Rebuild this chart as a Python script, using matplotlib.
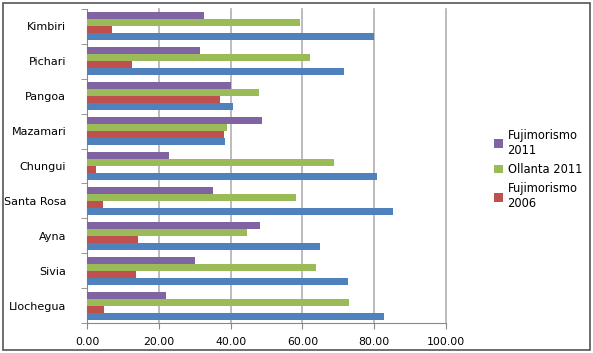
import numpy as np
import matplotlib
matplotlib.use("Agg")
import matplotlib.pyplot as plt
from matplotlib.patches import Rectangle

# data, bottom to top
districts = ["Llochegua", "Sivia", "Ayna", "Santa Rosa", "Chungui",
             "Mazamari", "Pangoa", "Pichari", "Kimbiri"]
ollanta_2006 = [82.6, 72.8, 64.8, 85.1, 80.7, 38.5, 40.7, 71.5, 80.0]
fujimorismo_2006 = [4.8, 13.7, 14.2, 4.5, 2.5, 38.2, 37.0, 12.5, 7.0]
ollanta_2011 = [73.1, 63.9, 44.6, 58.1, 68.8, 39.0, 48.0, 62.0, 59.3]
fujimorismo_2011 = [22.0, 30.1, 48.2, 35.1, 22.8, 48.8, 40.0, 31.5, 32.6]

series = [
    ("Ollanta 2006", ollanta_2006, "#4F81BD"),
    ("Fujimorismo\n2006", fujimorismo_2006, "#C0504D"),
    ("Ollanta 2011", ollanta_2011, "#9BBB59"),
    ("Fujimorismo\n2011", fujimorismo_2011, "#8064A2"),
]

plt.rcParams['font.family'] = ['DejaVu Sans']

fig = plt.figure(figsize=(5.93, 3.53), dpi=100)
ax = fig.add_axes([0.1467, 0.085, 0.6054, 0.8895])

y = np.arange(len(districts))
h = 0.2
bars = []
for i, (name, vals, col) in enumerate(series):
    b = ax.barh(y - 0.3 + i * h, vals, height=h, color=col, label=name, zorder=3)
    bars.append(b)

ax.set_xlim(0, 100)
ax.set_ylim(-0.5, len(districts) - 0.5)
ticks = np.arange(0, 101, 20)
ax.set_xticks(ticks)
ax.set_xticklabels(["%.2f" % v for v in ticks], fontsize=7.8)
ax.set_yticks(y)
ax.set_yticklabels(districts, fontsize=8.0)
ax.tick_params(axis='y', length=0, pad=15)
ax.set_yticks(np.arange(-0.5, len(districts)), minor=True)
ax.tick_params(axis='y', which='minor', length=4, color='#888888')
ax.tick_params(axis='x', length=4, color='#888888', pad=6)
for t in ticks[1:]:
    ax.axvline(t, color='#b0b0b0', linewidth=1.2, zorder=0, clip_on=False)
for s in ['top', 'right']:
    ax.spines[s].set_visible(False)
for s in ['left', 'bottom']:
    ax.spines[s].set_color('#888888')

handles = [bars[3], bars[2], bars[1]]
labels = [series[3][0], series[2][0], series[1][0]]
fig.legend(handles, labels, loc='upper left', bbox_to_anchor=(0.815, 0.665),
           frameon=False, fontsize=8.3, handlelength=0.8, handleheight=0.8,
           handletextpad=0.4, labelspacing=0.55)

fig.patches.append(Rectangle((0.005, 0.008), 0.99, 0.984, transform=fig.transFigure,
                             fill=False, edgecolor='#555555', linewidth=1.2))

fig.savefig("out.png", dpi=100)
